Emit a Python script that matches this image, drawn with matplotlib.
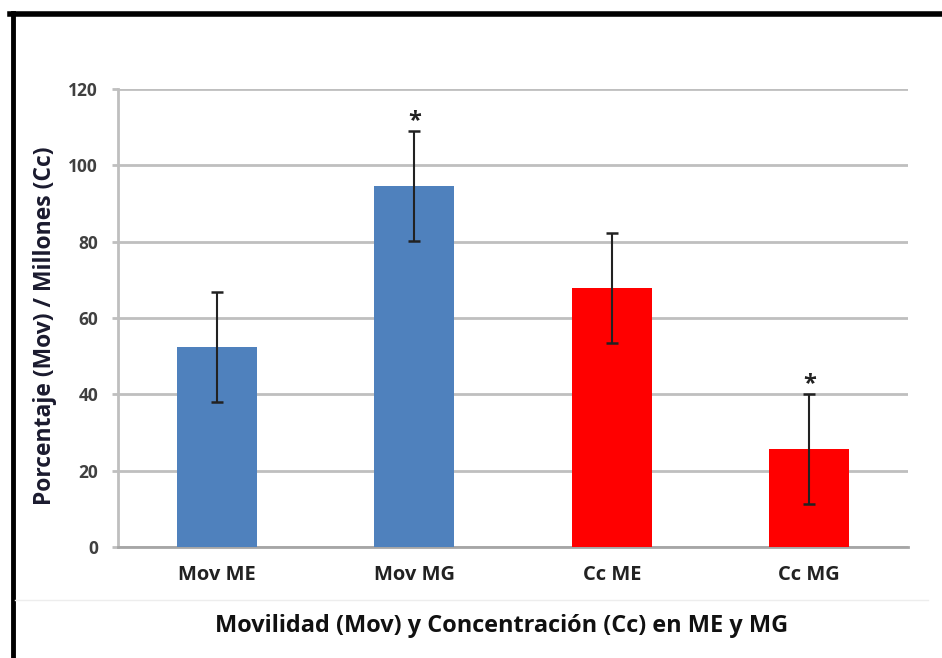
import matplotlib
matplotlib.use("Agg")
import matplotlib.pyplot as plt
from matplotlib.lines import Line2D
import numpy as np

categories = ["Mov ME", "Mov MG", "Cc ME", "Cc MG"]
values = [52.4, 94.6, 67.9, 25.7]
errors = [14.5, 14.5, 14.4, 14.5]
colors = ["#4F81BD", "#4F81BD", "#FF0000", "#FF0000"]
significant = [False, True, False, True]
yticks = [0, 20, 40, 60, 80, 100, 120]

plt.rcParams["font.family"] = ["Open Sans", "DejaVu Sans"]

fig = plt.figure(figsize=(9.42, 6.58), dpi=100)
ax = fig.add_axes([0.1253, 0.1687, 0.8386, 0.696])

x = np.arange(len(categories))
ax.bar(x, values, width=0.405, color=colors, zorder=3)
ax.errorbar(x, values, yerr=errors, fmt="none", ecolor="#222222",
            elinewidth=1.5, capsize=4, capthick=1.8, zorder=4)

for xi, v, e, s in zip(x, values, errors, significant):
    if s:
        ax.text(xi, v + e + 2.4, "*", ha="center", va="center",
                fontsize=17, fontweight="bold", color="#222222")

ax.set_xlim(-0.5, len(categories) - 0.5)
ax.set_ylim(0, 120)
ax.set_yticks(yticks)
ax.set_yticklabels([str(t) for t in yticks])
ax.set_xticks(x)
ax.set_xticklabels(categories)

ax.yaxis.grid(True, color="#BFBFBF", linewidth=2, zorder=0)
ax.set_axisbelow(True)
for side in ["top", "right"]:
    ax.spines[side].set_visible(False)
ax.spines["left"].set_color("#BFBFBF")
ax.spines["left"].set_linewidth(2)
ax.spines["bottom"].set_color("#A6A6A6")
ax.spines["bottom"].set_linewidth(2)

ax.tick_params(axis="y", length=4.3, width=2, color="#BFBFBF", pad=10,
               labelsize=12.5, labelcolor="#404040")
ax.tick_params(axis="x", length=0, pad=13, labelsize=14.5, labelcolor="#222222")
for lab in ax.get_yticklabels():
    lab.set_fontweight("bold")
for lab in ax.get_xticklabels():
    lab.set_fontweight("bold")

fig.text(45 / 942, 1 - 326 / 658, "Porcentaje (Mov) / Millones (Cc)",
         rotation=90, ha="center", va="center", fontsize=16.5,
         fontweight="bold", color="#1A1A2E")
fig.text(0.532, 0.049, "Movilidad (Mov) y Concentración (Cc) en ME y MG",
         ha="center", va="center", fontsize=16.9, fontweight="bold",
         color="#111111")

# frame lines around the figure
fig.add_artist(Line2D([0.0105, 1.0], [0.978, 0.978], color="black",
                      linewidth=4, transform=fig.transFigure))
fig.add_artist(Line2D([0.0133, 0.0133], [0.0, 0.981], color="black",
                      linewidth=3.5, transform=fig.transFigure))
fig.add_artist(Line2D([0.016, 0.985], [0.088, 0.088], color="#EDEDED",
                      linewidth=1, transform=fig.transFigure))

fig.savefig("out.png", dpi=100)
